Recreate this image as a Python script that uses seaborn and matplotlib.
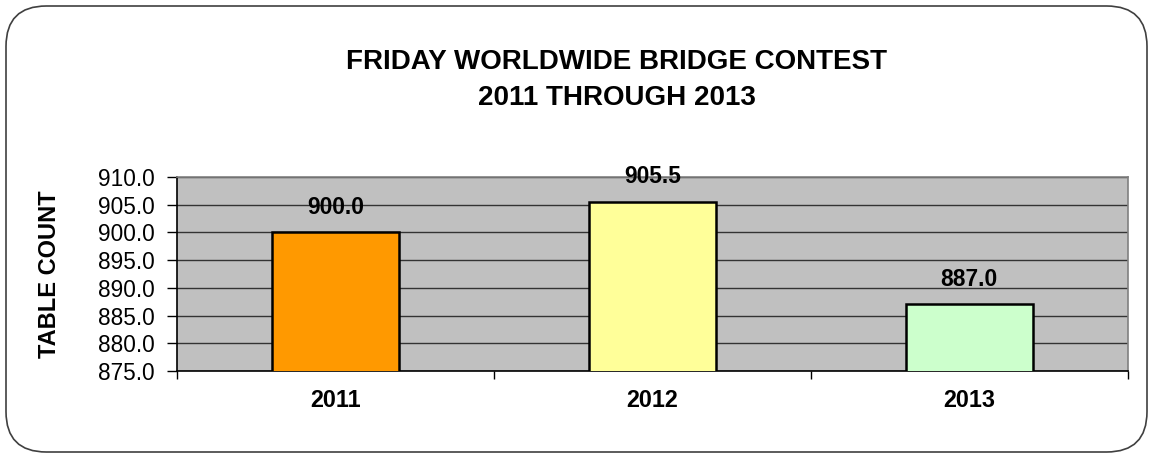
import matplotlib
matplotlib.use("Agg")
import matplotlib.pyplot as plt
from matplotlib.patches import FancyBboxPatch
import seaborn as sns
import pandas as pd

years = ["2011", "2012", "2013"]
table_counts = [900.0, 905.5, 887.0]
bar_colors = ["#FF9900", "#FFFF99", "#CCFFCC"]
y_ticks = [875.0, 880.0, 885.0, 890.0, 895.0, 900.0, 905.0, 910.0]
title_lines = ["FRIDAY WORLDWIDE BRIDGE CONTEST", "2011 THROUGH 2013"]
y_label = "TABLE COUNT"

sns.set_theme(style="white")
plt.rcParams["font.family"] = ["Liberation Sans", "DejaVu Sans"]
plt.rcParams["text.color"] = "black"
plt.rcParams["axes.labelcolor"] = "black"
plt.rcParams["xtick.color"] = "black"
plt.rcParams["ytick.color"] = "black"

df = pd.DataFrame({"year": years, "count": table_counts})

fig = plt.figure(figsize=(11.53, 4.58), dpi=100)
ax = fig.add_axes([0.1535, 0.19, 0.8245, 0.4235])

# rounded frame around the whole chart
frame = FancyBboxPatch((6 / 1153, 6 / 458), 1141 / 1153, 446 / 458,
                       boxstyle="round,pad=0,rounding_size=0.035",
                       transform=fig.transFigure, fill=False,
                       edgecolor="#404040", linewidth=1.2,
                       mutation_aspect=1153 / 458)
fig.patches.append(frame)

ax.set_facecolor("#C0C0C0")
ax.set_axisbelow(True)
ax.yaxis.grid(True, color="#333333", linewidth=1.0)

sns.barplot(data=df, x="year", y="count", hue="year", palette=bar_colors,
            legend=False, width=0.4, edgecolor="black", linewidth=1.8,
            saturation=1, ax=ax, zorder=3)

ax.set_ylim(875, 910)
ax.set_xlim(-0.5, 2.5)
ax.set_yticks(y_ticks)
ax.set_yticklabels([f"{v:.1f}" for v in y_ticks], fontsize=16.3)
ax.tick_params(axis="y", which="major", direction="out", length=7,
               width=1, color="black", left=True, pad=9)

ax.set_xticks(range(len(years)))
ax.set_xticklabels(years, fontsize=16.8, fontweight="bold")
ax.tick_params(axis="x", which="major", length=0, pad=13)
ax.set_xticks([-0.5, 0.5, 1.5, 2.5], minor=True)
ax.tick_params(axis="x", which="minor", direction="out", length=6,
               width=1, color="black", bottom=True)

for cont in ax.containers:
    ax.bar_label(cont, fmt="%.1f", padding=10, fontsize=16.4,
                 fontweight="bold", color="black")

ax.set_xlabel("")
ax.set_ylabel(y_label, fontsize=17, fontweight="bold", labelpad=27)

for side in ["left", "bottom"]:
    ax.spines[side].set_color("black")
    ax.spines[side].set_linewidth(1.2)
for side in ["top", "right"]:
    ax.spines[side].set_color("#808080")
    ax.spines[side].set_linewidth(1.2)

fig.text(0.5347, 1 - 62 / 458, title_lines[0], ha="center", va="center",
         fontsize=20, fontweight="bold")
fig.text(0.5347, 1 - 98 / 458, title_lines[1], ha="center", va="center",
         fontsize=20, fontweight="bold")

fig.savefig("out.png", dpi=100)
